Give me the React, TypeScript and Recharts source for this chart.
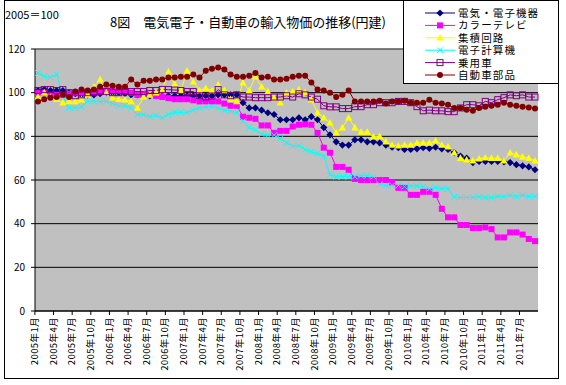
import React from 'react';
import { LineChart, Line, XAxis, YAxis, CartesianGrid, ReferenceLine } from 'recharts';

// categories: 2005年1月 .. 2011年9月
const years = [2005, 2006, 2007, 2008, 2009, 2010, 2011];
const monthsOfYear = [1, 2, 3, 4, 5, 6, 7, 8, 9, 10, 11, 12];
const lastMonth2011 = 9;
const categories: string[] = [];
years.forEach((y) => monthsOfYear.forEach((m) => {
  if (y < 2011 || m <= lastMonth2011) categories.push(`${y}年${m}月`);
}));

const yTicks = [0, 20, 40, 60, 80, 100, 120];

const elec = [
  101, 101.5, 101, 101, 101, 100, 99.5, 99, 99, 99, 99.5, 100, 100, 100, 99.5, 99, 99, 98.5, 98.5, 98.5, 98.5,
  98.5, 98.5, 98.5, 98.5, 98.5, 98.5, 98.5, 98.5, 99, 99, 99, 99,
  95.4, 93, 93, 92, 90.8, 90, 87.6, 87.6, 87.6, 88.5, 87.6, 89, 87.6, 84, 80.7, 77.5, 76, 76, 78.4, 78.4, 77.5, 77.5,
  77, 76, 75, 74.8, 74, 74, 74.3, 74.8, 74.5, 75, 74.3, 74, 72.5, 71, 70, 68, 68.5, 68.5, 68.5, 68.5, 68.3, 68, 67, 66.5, 66, 64.7,
];
const colorTv = [
  100, 100, 99, 99, 99, 99.5, 100, 100, 100, 100.5, 101, 101, 101, 101, 101, 100, 99, 99, 99, 98.5, 98,
  97.5, 97, 97, 97, 96.5, 96, 96, 96, 96, 95, 94, 94,
  89, 88.5, 88, 85, 85, 81.6, 82.5, 82.5, 84.5, 85.3, 85.5, 85.3, 81.6, 74.8, 72.5, 66, 66, 64.7, 60.5, 60, 60, 60,
  60, 60, 59, 56.4, 56.4, 53.2, 53.2, 54.6, 54.6, 53.2, 46.8, 42.9, 42.9, 39.4, 39.4, 38, 38, 38.3, 37.5, 33.7, 33.7,
  36, 36, 35, 33, 32,
];
const ic = [
  98, 100, 98, 97, 95.4, 96, 96, 96.8, 99, 102.7, 106, 100, 97.7, 97, 96.8, 96, 93, 98, 99, 100, 101,
  109.6, 104, 101, 110, 105, 101, 102, 101, 103.7, 101, 97, 96, 104.6, 101, 107.3, 102.7, 100.5, 97.7, 95.4,
  100, 100.5, 101.4, 100, 96.8, 90.8, 88.5, 86.2, 81.7, 84, 88.5, 84, 82, 82, 79.8, 80, 77.5, 76, 75.7, 76, 76,
  77, 77, 77, 78, 76, 75.2, 72.5, 70, 69.3, 68.8, 69.7, 70.2, 70, 70, 68.8, 72.5, 71.6, 70.6, 70, 68.8,
];
const computer = [
  109, 107.5, 107, 108.5, 98, 93, 93, 93.5, 96, 96, 96, 96, 95, 94, 94, 93, 90, 90, 89, 89.5, 88.5,
  90, 91, 91, 91, 92, 93, 93.5, 93.5, 93, 92, 91.5, 91, 87, 84, 83, 81, 80.5, 80.5, 79, 77, 75.7, 75.7, 74, 73, 72, 71, 62.4,
  61.5, 61.5, 61.5, 61.5, 62, 62, 61.5, 58, 57.5, 57.5, 57.5, 57, 57.3, 57.3, 57, 56, 56.5, 56, 56, 52.3, 52, 52, 52,
  52.3, 52, 52, 52.5, 52.5, 53, 52.5, 53, 52.5, 52.5,
];
const car = [
  101, 101.4, 101.4, 101, 101.4, 100, 98.6, 99, 100, 100, 100.5, 100.5, 100, 100, 100.5, 100.5, 100.5, 100.5, 101, 101,
  101.5, 101.4, 101.2, 101, 100.5, 100.5, 98.6, 98, 98.5, 101.4, 99, 98.6, 99, 98, 98, 97.7, 97.7, 97.7, 98, 98, 98.6,
  98, 99.5, 99, 98, 97, 94, 93.5, 93.5, 92.7, 92.7, 93.6, 93.6, 94.5, 94.5, 95.4, 95.4, 95.4, 96, 96, 95.4, 93.6,
  91.7, 92, 91.7, 91.7, 91.3, 91.3, 93, 94.5, 94.5, 94, 96, 95.4, 96.8, 97.7, 99, 98.6, 99, 98, 98,
];
const autoParts = [
  96, 97, 97.7, 98, 99, 98, 100.5, 101.4, 101, 101.4, 102.7, 103.7, 103.2, 102.7, 102.7, 106, 103.7, 105.5, 105.5, 106, 106,
  107, 107, 107.3, 107.3, 108.3, 107, 110, 111, 111.5, 110.6, 108.3, 107.3, 107.3, 107.8, 109, 107, 107.3, 106, 106, 106.4,
  107.3, 107.8, 107.8, 104.6, 101.4, 101, 100, 98, 99, 101, 96, 96, 96, 96, 96.3, 95, 96, 96, 96.3, 95.4,
  95.4, 95.4, 96.8, 95.4, 95, 94.5, 93, 93, 92.2, 91.7, 93, 93.6, 94, 94.5, 95.4, 94.5, 94, 93.6, 93.2, 92.7,
];

const seriesNames = ['電気・電子機器', 'カラーテレビ', '集積回路', '電子計算機', '乗用車', '自動車部品'];
const seriesKeys = ['elec', 'tv', 'ic', 'pc', 'car', 'parts'];
const seriesValues = [elec, colorTv, ic, computer, car, autoParts];
const seriesColors = ['#000080', '#FF00FF', '#FFFF00', '#00FFFF', '#800080', '#800000'];
const seriesMarkers = ['diamond', 'square', 'triangle', 'x', 'opensquare', 'circle'];

const data = categories.map((c, i) => {
  const row: Record<string, any> = { cat: c };
  seriesKeys.forEach((k, s) => { row[k] = seriesValues[s][i]; });
  return row;
});

const FONT = "'Noto Sans CJK JP', 'DejaVu Sans', sans-serif";
const LEGEND_FONT = "'Liberation Sans', 'Noto Sans CJK JP', sans-serif";

function Marker({ type, cx, cy, color }: { type: string; cx: number; cy: number; color: string }) {
  if (cx == null || cy == null || isNaN(cx) || isNaN(cy)) return null;
  switch (type) {
    case 'diamond':
      return <polygon points={`${cx},${cy - 3.6} ${cx + 3.6},${cy} ${cx},${cy + 3.6} ${cx - 3.6},${cy}`} fill={color} />;
    case 'square':
      return <rect x={cx - 3} y={cy - 3} width={6} height={6} fill={color} />;
    case 'triangle':
      return <polygon points={`${cx},${cy - 3.8} ${cx + 3.6},${cy + 2.8} ${cx - 3.6},${cy + 2.8}`} fill={color} />;
    case 'x':
      return (
        <g stroke={color} strokeWidth={1}>
          <line x1={cx - 2.8} y1={cy - 2.8} x2={cx + 2.8} y2={cy + 2.8} />
          <line x1={cx - 2.8} y1={cy + 2.8} x2={cx + 2.8} y2={cy - 2.8} />
        </g>
      );
    case 'opensquare':
      return <rect x={cx - 3} y={cy - 3} width={6} height={6} fill="none" stroke={color} strokeWidth={1} />;
    case 'circle':
      return <circle cx={cx} cy={cy} r={3} fill={color} />;
    default:
      return null;
  }
}

const HALF_CAT = 3.1;

function XTick(props: any) {
  const { x, y, payload } = props;
  return (
    <g>
      <line x1={x - HALF_CAT} y1={y} x2={x - HALF_CAT} y2={y + 4} stroke="#000" />
      <text
        transform={`translate(${x},${y + 6}) rotate(-90)`}
        textAnchor="end"
        fontSize={9.5}
        letterSpacing={0.4}
        fontFamily={FONT}
        fill="#000"
      >
        {payload.value}
      </text>
    </g>
  );
}

export default function App() {
  return (
    <div style={{ position: 'absolute', left: 0, top: 0, width: 566, height: 385, background: '#fff' }}>
      <LineChart
        width={566}
        height={385}
        data={data}
        margin={{ top: 49, right: 28, bottom: 0, left: 0 }}
      >
        <CartesianGrid vertical={false} stroke="#000" fill="#c0c0c0" fillOpacity={1} />
        <XAxis
          dataKey="cat"
          interval={2}
          height={74}
          padding={{ left: 3, right: 3 }}
          tickLine={false}
          tickSize={0}
          tickMargin={0}
          axisLine={{ stroke: '#000' }}
          tick={<XTick />}
        />
        <YAxis
          domain={[0, 120]}
          ticks={yTicks}
          interval={0}
          width={35}
          tickSize={4}
          tickMargin={6}
          axisLine={{ stroke: '#000' }}
          tickLine={{ stroke: '#000' }}
          tick={{ fontSize: 10, fill: '#000', fontFamily: FONT }}
        />
        <YAxis
          yAxisId="r"
          orientation="right"
          width={0}
          domain={[0, 120]}
          tick={false}
          tickLine={false}
          axisLine={{ stroke: '#808080' }}
        />
        <ReferenceLine y={120} stroke="#808080" />
        {seriesKeys.map((k, s) => (
          <Line
            key={k}
            type="linear"
            dataKey={k}
            name={seriesNames[s]}
            stroke={seriesColors[s]}
            strokeWidth={1}
            isAnimationActive={false}
            activeDot={false}
            dot={(p: any) => (
              <g key={`${k}-${p.index}`}>
                <Marker type={seriesMarkers[s]} cx={p.cx} cy={p.cy} color={seriesColors[s]} />
              </g>
            )}
          />
        ))}
      </LineChart>
      <svg
        width={566}
        height={385}
        style={{ position: 'absolute', left: 0, top: 0, pointerEvents: 'none' }}
      >
        <rect x={4.5} y={0.5} width={554} height={378} fill="none" stroke="#000" />
        <text x={5} y={19} fontSize={11} fontFamily={FONT} fill="#000">2005＝100</text>
        <text x={110} y={27} fontSize={13} fontFamily={FONT} fill="#000">8図　電気電子・自動車の輸入物価の推移(円建)</text>
        <rect x={403.5} y={0.5} width={155} height={83} fill="#fff" stroke="#000" />
        {seriesNames.map((n, s) => {
          const cy = 13 + s * 12.4;
          return (
            <g key={n}>
              <line x1={425} y1={cy} x2={455} y2={cy} stroke={seriesColors[s]} strokeWidth={1} />
              <Marker type={seriesMarkers[s]} cx={440} cy={cy} color={seriesColors[s]} />
              <text x={458} y={cy + 4} fontSize={10.5} letterSpacing={1.1} fontFamily={LEGEND_FONT} fill="#000">{n}</text>
            </g>
          );
        })}
      </svg>
    </div>
  );
}
